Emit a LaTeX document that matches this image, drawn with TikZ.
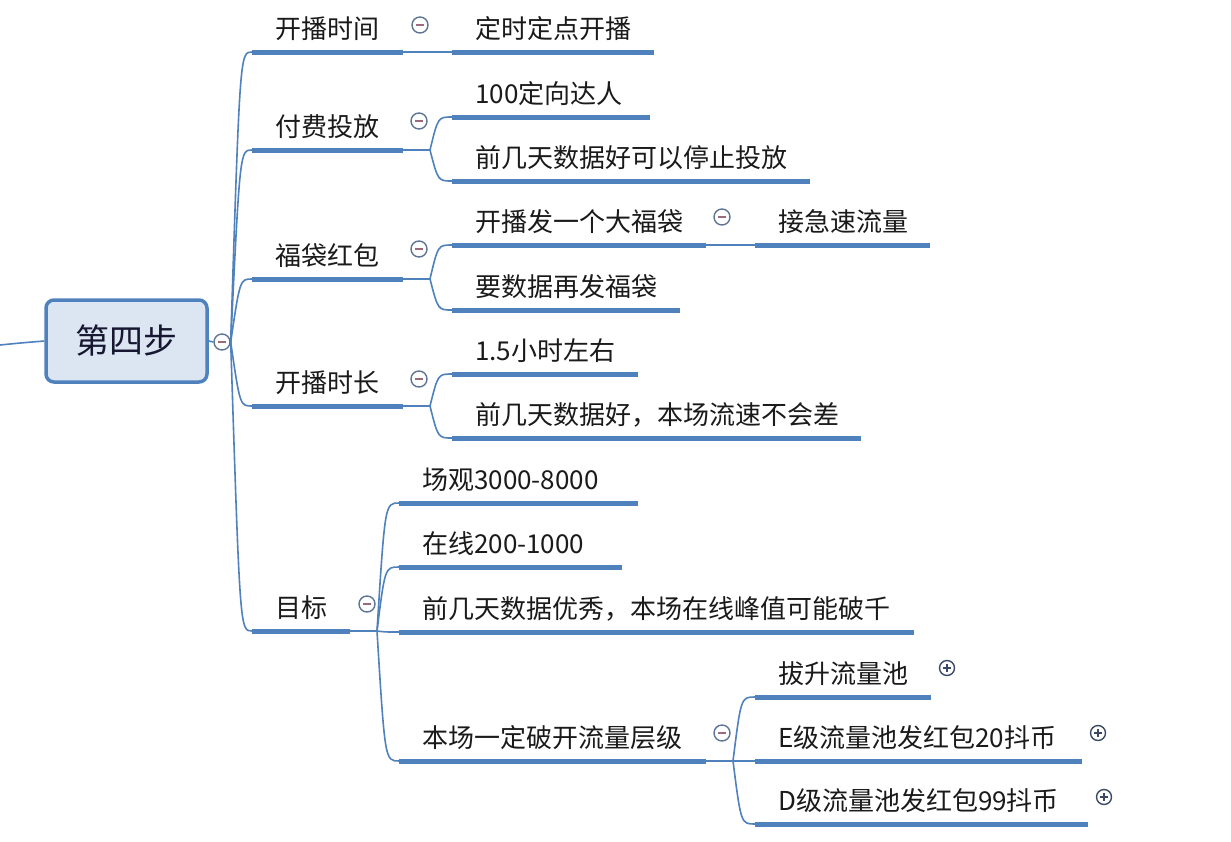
\documentclass[tikz,border=0pt]{standalone}
\usepackage{fontspec}
\setmainfont{Noto Sans CJK SC}
\definecolor{mmblue}{HTML}{4F81BD}
\definecolor{rootfill}{HTML}{DCE6F2}
\definecolor{ctrlc}{HTML}{5E7596}
\definecolor{minusc}{HTML}{9B6B7D}
\definecolor{plusc}{HTML}{3A4A66}
\definecolor{txt}{HTML}{1A1A1A}
\newcommand\mmtopic[5]{%
  \coordinate (#1-a) at (#2,-#4);
  \coordinate (#1-b) at (#3,-#4);
  \draw[uline] (#1-a) -- (#1-b);
  \node[lbl] (#1) at ([xshift=23,yshift=23]#1-a) {#5};}
\begin{document}
\begin{tikzpicture}[x=1pt,y=1pt,
  uline/.style={draw=mmblue,line width=5pt},
  conn/.style={draw=mmblue,line width=1.6pt},
  lbl/.style={anchor=west,inner sep=0pt,text=txt,font=\fontsize{26}{30}\selectfont},
  rootbox/.style={draw=mmblue,fill=rootfill,line width=3.5pt,rounded corners=8pt,
    minimum width=161,minimum height=82,inner sep=0pt,text=txt!90!blue,
    font=\fontsize{34}{40}\selectfont},
  ctrl/.style={circle,draw=ctrlc,line width=1.4pt,fill=white,minimum size=16pt,inner sep=0pt},
  pctrl/.style={circle,draw=plusc,line width=1.4pt,fill=white,minimum size=15pt,inner sep=0pt},
  msign/.style={draw=minusc,line width=1.6pt},
  psign/.style={draw=plusc,line width=1.5pt}]
\useasboundingbox (0,0) rectangle (1231,-841);
\fill[white] (0,0) rectangle (1231,-841);

% root
\node[rootbox] (root) at (126.5,-341) {第四步};
\coordinate (in) at (0,-345);
\draw[conn] (in) .. controls (20,-343) .. (root.west);
\node[ctrl] (rc) at (222,-342) {};
\draw[conn] (root.east) -- (rc.west);
\draw[msign] ([xshift=-4]rc.center) -- ([xshift=4]rc.center);

% level 1
\mmtopic{kbsj}{252}{403}{52}{开播时间}
\mmtopic{ffft}{252}{403}{150}{付费投放}
\mmtopic{fdhb}{252}{403}{279}{福袋红包}
\mmtopic{kbsc}{252}{403}{406}{开播时长}
\mmtopic{mb}{252}{350}{631}{目标}

\foreach \n/\y in {kbsj/52,ffft/150,fdhb/279,kbsc/406,mb/631}
  \draw[conn] (rc.east) .. controls (240,-\y) .. (\n-a);

% level 2
\mmtopic{dsdd}{452}{654}{52}{定时定点开播}
\mmtopic{dxdr}{452}{650}{117}{100定向达人}
\mmtopic{tzff}{452}{810}{181}{前几天数据好可以停止投放}
\mmtopic{dfd}{452}{706}{245}{开播发一个大福袋}
\mmtopic{zfd}{452}{680}{310}{要数据再发福袋}
\mmtopic{jjs}{755}{930}{245}{接急速流量}
\mmtopic{xs}{452}{638}{374}{1.5小时左右}
\mmtopic{lsbc}{452}{861}{438}{前几天数据好，本场流速不会差}

\mmtopic{cg}{399}{638}{503}{场观3000-8000}
\mmtopic{zx}{399}{622}{567}{在线200-1000}
\mmtopic{fq}{399}{914}{632}{前几天数据优秀，本场在线峰值可能破千}
\mmtopic{pk}{399}{706}{761}{本场一定破开流量层级}

\mmtopic{bs}{755}{931}{697}{拔升流量池}
\mmtopic{ej}{755}{1082}{761}{E级流量池发红包20抖币}
\mmtopic{dj}{755}{1088}{824}{D级流量池发红包99抖币}

% connectors level 1 -> level 2
\draw[conn] (kbsj-b) -- (dsdd-a);

\coordinate (ffft-j) at (430,-150);
\draw[conn] (ffft-b) -- (ffft-j);
\foreach \n/\y in {dxdr/117,tzff/181}
  \draw[conn] (ffft-j) .. controls (438,-\y) .. (\n-a);

\coordinate (fdhb-j) at (430,-279);
\draw[conn] (fdhb-b) -- (fdhb-j);
\foreach \n/\y in {dfd/245,zfd/310}
  \draw[conn] (fdhb-j) .. controls (438,-\y) .. (\n-a);
\draw[conn] (dfd-b) -- (jjs-a);

\coordinate (kbsc-j) at (430,-406);
\draw[conn] (kbsc-b) -- (kbsc-j);
\foreach \n/\y in {xs/374,lsbc/438}
  \draw[conn] (kbsc-j) .. controls (438,-\y) .. (\n-a);

\coordinate (mb-j) at (377,-631);
\draw[conn] (mb-b) -- (mb-j);
\foreach \n/\y in {cg/503,zx/567,fq/632,pk/761}
  \draw[conn] (mb-j) .. controls (385,-\y) .. (\n-a);

\coordinate (pk-j) at (733,-761);
\draw[conn] (pk-b) -- (pk-j);
\foreach \n/\y in {bs/697,ej/761,dj/824}
  \draw[conn] (pk-j) .. controls (741,-\y) .. (\n-a);

% collapse icons (minus)
\foreach \n/\x/\y in {m1/420/25,m2/419/121,m3/419/249,m4/419/379,m5/367/604,m6/722/217,m7/722/733}{
  \node[ctrl] (\n) at (\x,-\y) {};
  \draw[msign] ([xshift=-4]\n.center) -- ([xshift=4]\n.center);
}
% expand icons (plus)
\foreach \n/\x/\y in {p1/947/668,p2/1098/733,p3/1104/797}{
  \node[pctrl] (\n) at (\x,-\y) {};
  \draw[psign] ([xshift=-3.8]\n.center) -- ([xshift=3.8]\n.center);
  \draw[psign] ([yshift=-3.8]\n.center) -- ([yshift=3.8]\n.center);
}
\end{tikzpicture}
\end{document}
